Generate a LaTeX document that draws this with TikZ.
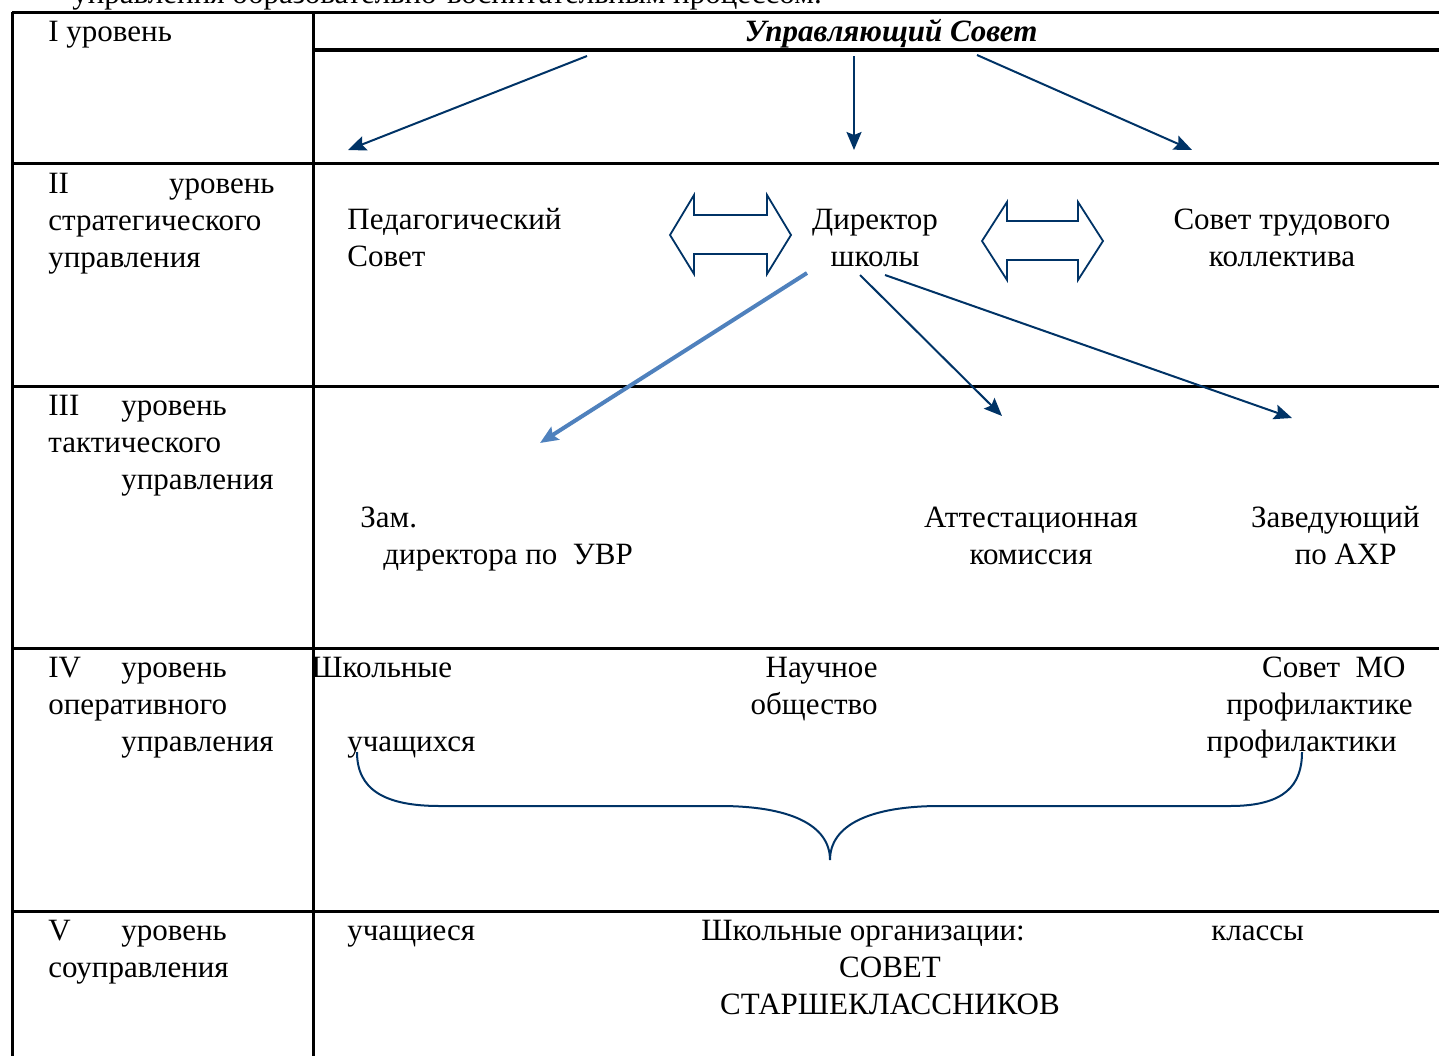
\documentclass[tikz,border=0pt]{standalone}
\usepackage{fontspec}
\setmainfont{Liberation Serif}
\usetikzlibrary{arrows.meta}
\definecolor{navy}{RGB}{0,51,102}
\definecolor{steel}{RGB}{79,129,189}

\tikzset{
  tbl/.style={line width=1.5pt, black},
  lbl/.style={anchor=base west, inner sep=0pt},
  lblr/.style={anchor=base east, inner sep=0pt},
  lblc/.style={anchor=base, inner sep=0pt},
  link/.style={navy, line width=1pt, -{Stealth[length=9pt,width=7.5pt,inset=1.5pt]}},
  dblarrow/.style={navy, line width=0.9pt, line join=miter, fill=white}
}

\begin{document}
\begin{tikzpicture}[x=0.5pt, y=-0.5pt, font=\fontsize{15.5}{18.5}\selectfont]

    \path[use as bounding box, clip] (0,0) rectangle (1439,1055);

    % table
    \draw[tbl] (12,12) -- (12,1060);
    \draw[tbl] (313,12) -- (313,1060);
    \foreach \y in {12,163,386,648,911} \draw[tbl] (12,\y) -- (1445,\y);
    \draw[tbl, line width=2pt] (313,50) -- (1445,50);

    % cut-off line above the table
    \node[lbl] (head) at (72,3) {управления образовательно-воспитательным процессом.};

    % left column
    \node[lbl] (l1) at (48,41) {I уровень};

    \node[lbl] (l2a) at (48,193) {II};
    \node[lblr] (l2b) at (275,193) {уровень};
    \node[lbl] (l2c) at (48,230) {стратегического};
    \node[lbl] (l2d) at (48,267) {управления};

    \node[lbl] (l3a) at (48,415) {III};
    \node[lbl] (l3b) at (121,415) {уровень};
    \node[lbl] (l3c) at (48,452) {тактического};
    \node[lbl] (l3d) at (121,489) {управления};

    \node[lbl] (l4a) at (48,677) {IV};
    \node[lbl] (l4b) at (121,677) {уровень};
    \node[lbl] (l4c) at (48,714) {оперативного};
    \node[lbl] (l4d) at (121,751) {управления};

    \node[lbl] (l5a) at (48,940) {V};
    \node[lbl] (l5b) at (121,940) {уровень};
    \node[lbl] (l5c) at (48,977) {соуправления};

    % level I
    \node[lblc, font=\fontsize{15.5}{18.5}\selectfont\bfseries\itshape] (us) at (891,41) {\underline{Управляющий Совет}};

    % level II (multi-line nodes sit on their last line)
    \node[lbl, align=left] (ped) at (347,266) {Педагогический\\Совет};
    \node[lblc, align=center] (dir) at (875,266) {Директор\\школы};
    \node[lblc, align=center] (stk) at (1282,266) {Совет трудового\\коллектива};

    \draw[dblarrow] (670,235) -- (694,195) -- (694,215) -- (767,215) -- (767,195) -- (791,235)
        -- (767,274) -- (767,254) -- (694,254) -- (694,274) -- cycle;
    \draw[dblarrow] (982,241) -- (1007,202) -- (1007,221) -- (1078,221) -- (1078,202) -- (1103,241)
        -- (1078,280) -- (1078,260) -- (1007,260) -- (1007,280) -- cycle;

    % level III
    \node[lbl] (zam) at (360,527) {Зам.};
    \node[lbl] (zamb) at (383,564) {директора по\ \ УВР};
    \node[lblc, align=center] (att) at (1031,564) {Аттестационная\\комиссия};
    \node[lblr] (zav) at (1420,527) {Заведующий};
    \node[lblr] (zavb) at (1397,564) {по АХР};

    % level IV
    \node[lbl] (sho) at (311,677) {Школьные};
    \node[lbl] (shob) at (347,751) {учащихся};
    \node[lblr, align=right] (nauch) at (878,714) {Научное\\общество};
    \node[lblr] (smo) at (1406,677) {Совет\ \ МО};
    \node[lblr] (smob) at (1413,714) {профилактике};
    \node[lblr] (smoc) at (1397,751) {профилактики};

    % level V
    \node[lbl] (uch) at (347,940) {учащиеся};
    \node[lbl] (org) at (701,940) {Школьные организации:};
    \node[lblc, align=center] (sov) at (890,1014) {СОВЕТ\\СТАРШЕКЛАССНИКОВ};
    \node[lbl] (kl) at (1211,940) {классы};

    % arrows
    \coordinate (usL) at (587,56);
    \coordinate (usM) at (854,56);
    \coordinate (usR) at (977,55);
    \coordinate (pedT) at (348,150);
    \coordinate (dirT) at (854,150);
    \coordinate (stkT) at (1192,150);
    \draw[link] (usL) -- (pedT);
    \draw[link] (usM) -- (dirT);
    \draw[link] (usR) -- (stkT);

    \coordinate (dirL) at (807,273);
    \coordinate (dirM) at (860,275);
    \coordinate (dirR) at (885,275);
    \coordinate (zamT) at (540,443);
    \coordinate (attT) at (1002,416);
    \coordinate (zavT) at (1292,418);
    \draw[link, steel, line width=2pt] (dirL) -- (zamT);
    \draw[link] (dirM) -- (attT);
    \draw[link] (dirR) -- (zavT);

    % brace
    \draw[navy, line width=1pt] (357,752) .. controls (357,790) and (385,806) .. (440,806) -- (720,806)
        .. controls (790,806) and (830,825) .. (830,860)
        .. controls (830,825) and (870,806) .. (940,806) -- (1230,806)
        .. controls (1285,806) and (1302,785) .. (1302,752);

\end{tikzpicture}
\end{document}
